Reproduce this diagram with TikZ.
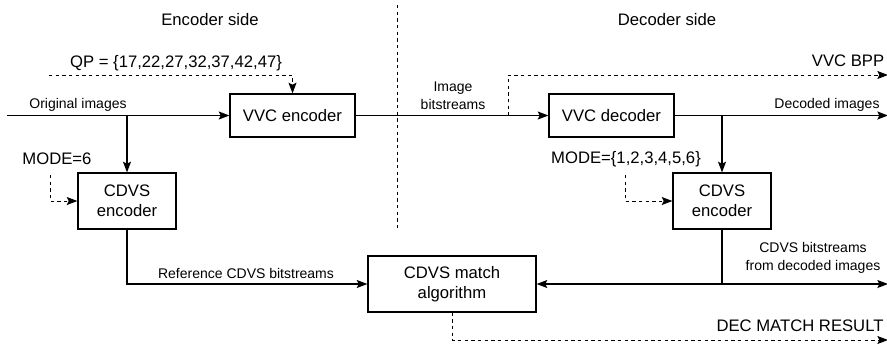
\documentclass[tikz,border=0pt]{standalone}
\usepackage{fontspec}
\setmainfont{Liberation Sans}
\usetikzlibrary{positioning,arrows.meta,calc}

\begin{document}
\begin{tikzpicture}[x=0.75pt,y=-0.75pt,
  bloque/.style 2 args={draw, line width=0.9pt, minimum width=#1,
    minimum height=#2, inner sep=0pt, align=center,
    font=\fontsize{12.5}{15}\selectfont},
  grande/.style={font=\fontsize{12.5}{14}\selectfont, inner sep=0pt},
  chica/.style={font=\fontsize{10.5}{13.5}\selectfont, inner sep=0pt, align=center},
  flecha/.style={-{Stealth[length=8pt,width=6pt,inset=1.5pt]}, line width=0.9pt},
  flechad/.style={flecha, line width=0.75pt, dash pattern=on 2.5pt off 2.5pt},
  divisor/.style={line width=0.7pt, dash pattern=on 2.5pt off 2.5pt}
]
\useasboundingbox (0,0) rectangle (887,347);
% bloques
\node[bloque={93.75pt}{32.25pt}] (venc) at (292.5,115.5) {VVC encoder};
\node[bloque={93.75pt}{32.25pt}] (vdec) at (611.5,115.5) {VVC decoder};
\node[bloque={73.5pt}{42pt}] (cenc) at (127,201) {CDVS\\encoder};
\node[bloque={73.5pt}{42pt}] (cdec) at (722,201) {CDVS\\encoder};
\node[bloque={126pt}{42pt}] (match) at (452,284) {CDVS match\\algorithm};
% puntos libres
\coordinate (ini) at (7,115.5);
\coordinate (rama1) at (127,115.5);
\coordinate (qp) at (49,75);
\coordinate (rama2) at (508,115.5);
\coordinate (bpp) at (888,75);
\coordinate (decout) at (888,115.5);
\coordinate (rama3) at (722,115.5);
\coordinate (m1) at (50,175);
\coordinate (m2) at (625,175);
\coordinate (rama4) at (722,284);
\coordinate (cdvsout) at (888,284);
\coordinate (res) at (888,340);
\coordinate (divA) at (397,5);
\coordinate (divB) at (397,228);
% conexiones
\draw[divisor] (divA) -- (divB);
\draw[flecha] (ini) -- (venc.west);
\draw[flecha] (rama1) -- (cenc.north);
\draw[flechad] (qp) -| (venc.north);
\draw[flecha] (venc.east) -- (vdec.west);
\draw[flechad] (rama2) |- (bpp);
\draw[flecha] (vdec.east) -- (decout);
\draw[flecha] (rama3) -- (cdec.north);
\draw[flechad] (m1) |- (cenc.west);
\draw[flechad] (m2) |- (cdec.west);
\draw[flecha] (cenc.south) |- (match.west);
\draw[line width=0.9pt] (cdec.south) -- (rama4);
\draw[flecha] (rama4) -- (match.east);
\draw[flecha] (rama4) -- (cdvsout);
\draw[flechad] (match.south) |- (res);
% textos
\node[grande] (tenc) at (210,20) {Encoder side};
\node[grande] (tdec) at (667,20) {Decoder side};
\node[grande] (lqp) at (176,63) {QP = \{17,22,27,32,37,42,47\}};
\node[chica] (lorig) at (78,105) {Original images};
\node[grande] (lmode1) at (57,159) {MODE=6};
\node[chica] (lbits) at (453,96) {Image\\bitstreams};
\node[grande] (lbpp) at (848,61) {VVC BPP};
\node[chica] (ldeco) at (827,105) {Decoded images};
\node[grande] (lmode2) at (626,159) {MODE=\{1,2,3,4,5,6\}};
\node[chica] (lref) at (246,273) {Reference CDVS bitstreams};
\node[chica] (lcdvs) at (813,258) {CDVS bitstreams\\from decoded images};
\node[grande] (lres) at (800,326) {DEC MATCH RESULT};
\end{tikzpicture}
\end{document}
